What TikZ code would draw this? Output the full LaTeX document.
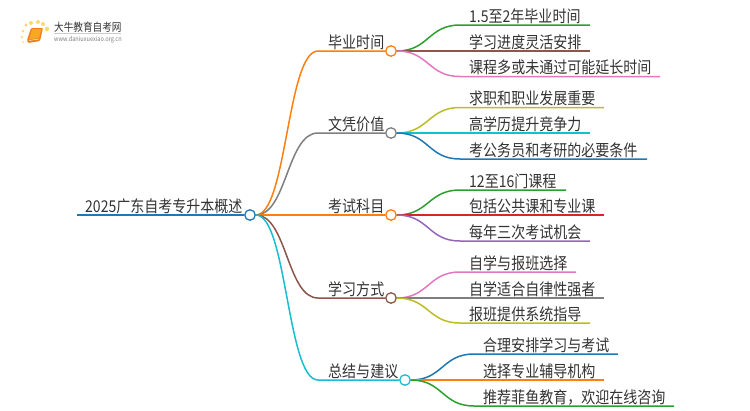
\documentclass[tikz,border=0pt]{standalone}
\usepackage{fontspec}
\setmainfont{Noto Sans CJK SC}[FakeStretch=0.86]
\definecolor{tabblue}{HTML}{1F77B4}
\definecolor{taborange}{HTML}{FF7F0E}
\definecolor{tabgreen}{HTML}{2CA02C}
\definecolor{tabred}{HTML}{D62728}
\definecolor{tabpurple}{HTML}{9467BD}
\definecolor{tabbrown}{HTML}{8C564B}
\definecolor{tabpink}{HTML}{E377C2}
\definecolor{tabgray}{HTML}{7F7F7F}
\definecolor{tabolive}{HTML}{BCBD22}
\definecolor{tabcyan}{HTML}{17BECF}
\definecolor{logoyellow}{HTML}{FFD970}
\definecolor{logoorange}{HTML}{F7A823}
\definecolor{logospine}{HTML}{EC7F1A}
\definecolor{inktext}{HTML}{333333}
\begin{document}
\begin{tikzpicture}[x=1pt, y=-1pt,
    wire/.style={line width=1.5pt},
    hub/.style={circle, draw=#1, fill=white, line width=1.3pt, minimum size=10.5pt, inner sep=0pt},
    lbl/.style={anchor=base west, inner sep=0pt, yshift=-0.8pt, text=inktext, font=\fontsize{16.3}{16}\selectfont},
    sun/.style={circle, fill=logoyellow, inner sep=0pt}]
    \useasboundingbox (0,0) rectangle (750,410);

    \foreach \sx/\sy/\sr in {23/42/2, 22/37/2.5, 23/31/3, 26/25/3.5, 31/23/4, 38/22/4, 43/24/4, 47/29/4.5}
        \node[sun, minimum size=\sr pt] at (\sx,\sy) {};
    \fill[logospine, rounded corners=1pt] (31,28) -- (43,28) -- (40,41) -- (28,43) -- (27,40) -- cycle;
    \fill[logoorange] (32,29) -- (41.5,29) -- (39,38) -- (29,39.5) -- cycle;
    \draw[white, line width=0.4pt] (29,40.5) -- (39,39);
    \node[inner sep=0pt, anchor=base west, text=inktext, font=\fontsize{11.2}{11}\selectfont] (logoname) at (54,31) {大牛教育自考网};
    \node[inner sep=0pt, anchor=base west, text=tabgray, font=\fontsize{6.5}{7}\selectfont] (logourl) at (54,41) {www.daniuxuexiao.org.cn};
    \draw[gray!40, line width=0.4pt] (54,33.5) -- ++(67,0);

    \node[hub=tabblue] (rootdot) at (250,215) {};
    \node[hub=taborange] (timedot) at (391,51) {};
    \node[hub=tabgray] (valuedot) at (391,133) {};
    \node[hub=taborange] (examdot) at (391,215) {};
    \node[hub=tabbrown] (studydot) at (391,298) {};
    \node[hub=tabcyan] (tipsdot) at (405,380) {};

    \coordinate (rootstart) at (77,215);
    \coordinate (timebend) at (318,51);
    \coordinate (valuebend) at (318,133);
    \coordinate (studybend) at (318,298);
    \coordinate (tipsbend) at (318,380);

    \coordinate (timeA) at (460,25);
    \coordinate (timeAend) at (590,25);
    \coordinate (timeBend) at (590,51);
    \coordinate (timeC) at (460,76.5);
    \coordinate (timeCend) at (660,76.5);
    \coordinate (valueA) at (460,107.5);
    \coordinate (valueAend) at (604,107.5);
    \coordinate (valueBend) at (590,133);
    \coordinate (valueC) at (460,159);
    \coordinate (valueCend) at (647,159);
    \coordinate (examA) at (460,190);
    \coordinate (examAend) at (566,190);
    \coordinate (examBend) at (604,215);
    \coordinate (examC) at (460,241);
    \coordinate (examCend) at (590,241);
    \coordinate (studyA) at (460,272);
    \coordinate (studyAend) at (576,272);
    \coordinate (studyBend) at (604,298);
    \coordinate (studyC) at (460,323);
    \coordinate (studyCend) at (590,323);
    \coordinate (tipsA) at (474,354);
    \coordinate (tipsAend) at (618,354);
    \coordinate (tipsBend) at (604,380);
    \coordinate (tipsC) at (474,406);
    \coordinate (tipsCend) at (674,406);

    \draw[tabblue, line width=1.8pt] (rootstart) -- (rootdot);
    \draw[wire, taborange] (rootdot.east) .. controls +(31,0) and +(-31,0) .. (timebend) -- (timedot);
    \draw[wire, tabgray] (rootdot.east) .. controls +(31,0) and +(-31,0) .. (valuebend) -- (valuedot);
    \draw[wire, taborange] (rootdot) -- (examdot);
    \draw[wire, tabbrown] (rootdot.east) .. controls +(31,0) and +(-31,0) .. (studybend) -- (studydot);
    \draw[wire, tabcyan] (rootdot.east) .. controls +(31,0) and +(-31,0) .. (tipsbend) -- (tipsdot);

    \draw[wire, tabgreen] (timedot.east) .. controls +(32,0) and +(-32,0) .. (timeA) -- (timeAend);
    \draw[wire, tabbrown] (timedot) -- (timeBend);
    \draw[wire, tabpink] (timedot.east) .. controls +(32,0) and +(-32,0) .. (timeC) -- (timeCend);
    \draw[wire, tabolive] (valuedot.east) .. controls +(32,0) and +(-32,0) .. (valueA) -- (valueAend);
    \draw[wire, tabcyan] (valuedot) -- (valueBend);
    \draw[wire, tabblue] (valuedot.east) .. controls +(32,0) and +(-32,0) .. (valueC) -- (valueCend);
    \draw[wire, tabgreen] (examdot.east) .. controls +(32,0) and +(-32,0) .. (examA) -- (examAend);
    \draw[wire, tabred] (examdot) -- (examBend);
    \draw[wire, tabpurple] (examdot.east) .. controls +(32,0) and +(-32,0) .. (examC) -- (examCend);
    \draw[wire, tabpink] (studydot.east) .. controls +(32,0) and +(-32,0) .. (studyA) -- (studyAend);
    \draw[wire, tabgray] (studydot) -- (studyBend);
    \draw[wire, tabolive] (studydot.east) .. controls +(32,0) and +(-32,0) .. (studyC) -- (studyCend);
    \draw[wire, tabblue] (tipsdot.east) .. controls +(32,0) and +(-32,0) .. (tipsA) -- (tipsAend);
    \draw[wire, taborange] (tipsdot) -- (tipsBend);
    \draw[wire, tabgreen] (tipsdot.east) .. controls +(32,0) and +(-32,0) .. (tipsC) -- (tipsCend);

    \node[lbl] (roottext) at (85,211.5) {2025广东自考专升本概述};
    \node[lbl] (timetext) at (328,47.5) {毕业时间};
    \node[lbl] (valuetext) at (328,129.5) {文凭价值};
    \node[lbl] (examtext) at (328,211.5) {考试科目};
    \node[lbl] (studytext) at (328,294.5) {学习方式};
    \node[lbl] (tipstext) at (328,376.5) {总结与建议};

    \node[lbl] (timeAtext) at (469,21.5) {1.5至2年毕业时间};
    \node[lbl] (timeBtext) at (469,47.5) {学习进度灵活安排};
    \node[lbl] (timeCtext) at (469,73) {课程多或未通过可能延长时间};
    \node[lbl] (valueAtext) at (469,104) {求职和职业发展重要};
    \node[lbl] (valueBtext) at (469,129.5) {高学历提升竞争力};
    \node[lbl] (valueCtext) at (469,155.5) {考公务员和考研的必要条件};
    \node[lbl] (examAtext) at (469,186.5) {12至16门课程};
    \node[lbl] (examBtext) at (469,211.5) {包括公共课和专业课};
    \node[lbl] (examCtext) at (469,237.5) {每年三次考试机会};
    \node[lbl] (studyAtext) at (469,268.5) {自学与报班选择};
    \node[lbl] (studyBtext) at (469,294.5) {自学适合自律性强者};
    \node[lbl] (studyCtext) at (469,319.5) {报班提供系统指导};
    \node[lbl] (tipsAtext) at (483,350.5) {合理安排学习与考试};
    \node[lbl] (tipsBtext) at (483,376.5) {选择专业辅导机构};
    \node[lbl] (tipsCtext) at (483,402.5) {推荐菲鱼教育，欢迎在线咨询};
\end{tikzpicture}
\end{document}
